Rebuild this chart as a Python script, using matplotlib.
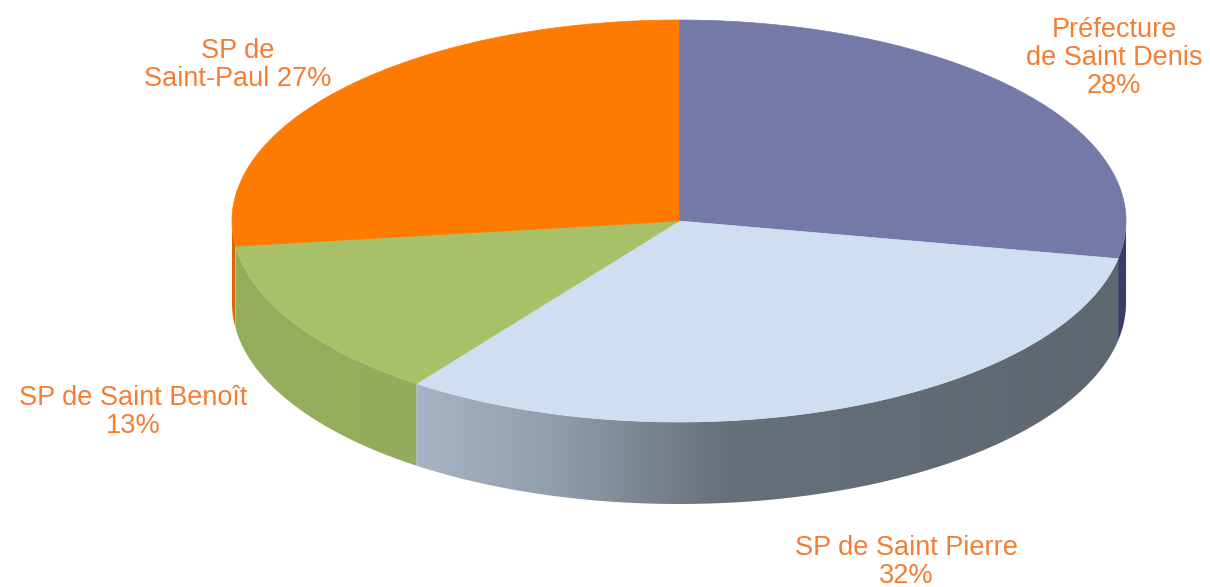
import numpy as np
import matplotlib
matplotlib.use("Agg")
import matplotlib.pyplot as plt
from matplotlib.patches import Polygon
from matplotlib.colors import LinearSegmentedColormap

# ---- data ----
categories = ["Préfecture\nde Saint Denis", "SP de Saint Pierre", "SP de Saint Benoît", "SP de\nSaint-Paul"]
values = [28, 32, 13, 27]
label_texts = ["Préfecture\nde Saint Denis\n28%", "SP de Saint Pierre\n32%",
               "SP de Saint Benoît\n13%", "SP de\nSaint-Paul 27%"]

# ---- style ----
top_colors = ["#7579a8", "#cfdef0", "#a8c169", "#ff7b00"]
# side gradient stops as (fraction of pie width from left edge, colour)
side_stops = [[(0.0, "#2c2f57"), (1.0, "#3a3e68")],
              [(0.0, "#aab7c8"), (0.19, "#aab7c8"), (0.36, "#909dac"),
               (0.55, "#67717b"), (1.0, "#5e6770")],
              [(0.0, "#95ae5d"), (1.0, "#8ea654")],
              [(0.0, "#d96800"), (1.0, "#d96800")]]
label_color = "#f47d32"
label_pos = [(1114, 58), (906, 562), (133, 412), (238, 65)]

W, H = 1210, 587
cx, cy, a, b, depth = 679, 221, 447, 201, 82

fig = plt.figure(figsize=(W / 100, H / 100), dpi=100)
ax = fig.add_axes([0, 0, 1, 1])
ax.set_xlim(0, W)
ax.set_ylim(H, 0)
ax.axis("off")

def pt(theta, dy=0.0):
    t = np.radians(theta)
    return cx + a * np.cos(t), cy - b * np.sin(t) + dy

total = float(sum(values))
starts, ends = [], []
ang = 90.0
for v in values:
    span = 360.0 * v / total
    starts.append(ang)
    ends.append(ang - span)
    ang -= span

# side faces (front half only)
for i in range(len(values)):
    t_hi, t_lo = starts[i], ends[i]
    cmap = LinearSegmentedColormap.from_list("s%d" % i, side_stops[i])
    for lo_lim, hi_lim in [(-180, 0), (-540, -360)]:
        lo = max(t_lo, lo_lim)
        hi = min(t_hi, hi_lim)
        if hi <= lo:
            continue
        th = np.linspace(hi, lo, 200)
        xs, ys = pt(th)
        xb, yb = pt(th[::-1], depth)
        poly = np.column_stack([np.concatenate([xs, xb]), np.concatenate([ys, yb])])
        patch = Polygon(poly, closed=True, facecolor="none", edgecolor="none")
        ax.add_patch(patch)
        x0, x1 = poly[:, 0].min(), poly[:, 0].max()
        y0, y1 = poly[:, 1].min(), poly[:, 1].max()
        xx = np.linspace(x0, x1, 512)
        gn = np.clip((xx - (cx - a)) / (2 * a), 0, 1)
        im = ax.imshow(gn[None, :], cmap=cmap, vmin=0, vmax=1, aspect="auto",
                       extent=(x0, x1, y1, y0), interpolation="bilinear", zorder=1)
        im.set_clip_path(patch)

# top faces
for i in range(len(values)):
    th = np.linspace(starts[i], ends[i], 300)
    xs, ys = pt(th)
    poly = np.column_stack([np.concatenate([[cx], xs]), np.concatenate([[cy], ys])])
    ax.add_patch(Polygon(poly, closed=True, facecolor=top_colors[i],
                         edgecolor=top_colors[i], linewidth=0.5, zorder=3))

for txt, (x, y) in zip(label_texts, label_pos):
    ax.text(x, y, txt, ha="center", va="center", multialignment="center",
            fontsize=19.5, color=label_color, family=["Liberation Sans", "DejaVu Sans"],
            linespacing=1.08, zorder=5)

fig.savefig("out.png", dpi=100, facecolor="white")
